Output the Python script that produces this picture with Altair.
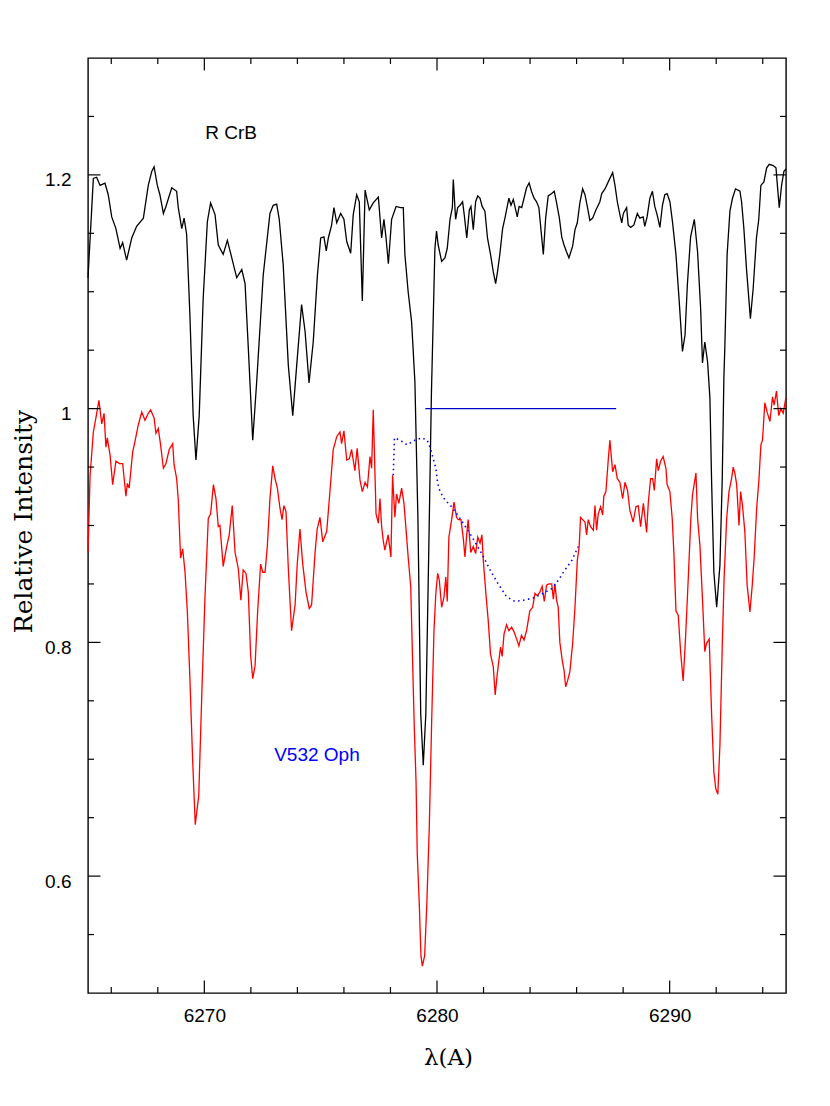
import altair as alt
import pandas as pd

# ---------------- data ----------------
rcrb_lam = [6265.00, 6265.23, 6265.37, 6265.52, 6265.73, 6265.87, 6266.02, 6266.20, 6266.38, 6266.49,
            6266.66, 6266.88, 6267.09, 6267.38, 6267.59, 6267.74, 6267.84, 6267.98, 6268.09, 6268.24,
            6268.35, 6268.60, 6268.81, 6268.88, 6269.03, 6269.13, 6269.24, 6269.38, 6269.52, 6269.64,
            6269.78, 6269.95, 6270.13, 6270.27, 6270.46, 6270.60, 6270.81, 6270.99, 6271.18, 6271.39,
            6271.61, 6271.75, 6271.89, 6272.08, 6272.25, 6272.53, 6272.82, 6272.96, 6273.11, 6273.22,
            6273.39, 6273.61, 6273.80, 6273.97, 6274.18, 6274.33, 6274.50, 6274.68, 6274.86, 6275.00,
            6275.14, 6275.24, 6275.33, 6275.47, 6275.57, 6275.69, 6275.86, 6276.00, 6276.12, 6276.29,
            6276.40, 6276.55, 6276.66, 6276.79, 6276.91, 6277.09, 6277.26, 6277.48, 6277.62, 6277.72,
            6277.81, 6277.91, 6278.05, 6278.24, 6278.44, 6278.55, 6278.62, 6278.76, 6278.91, 6279.05,
            6279.18, 6279.30, 6279.41, 6279.52, 6279.65, 6279.76, 6279.91, 6279.98, 6280.05, 6280.20,
            6280.34, 6280.44, 6280.56, 6280.66, 6280.70, 6280.80, 6280.89, 6280.99, 6281.10, 6281.17,
            6281.28, 6281.39, 6281.46, 6281.56, 6281.66, 6281.75, 6281.85, 6281.94, 6282.06, 6282.17,
            6282.30, 6282.42, 6282.52, 6282.60, 6282.70, 6282.82, 6282.92, 6283.02, 6283.09, 6283.18,
            6283.28, 6283.45, 6283.53, 6283.64, 6283.74, 6283.85, 6283.96, 6284.06, 6284.17, 6284.28,
            6284.38, 6284.45, 6284.57, 6284.67, 6284.78, 6284.93, 6285.04, 6285.14, 6285.26, 6285.36,
            6285.46, 6285.57, 6285.67, 6285.83, 6285.93, 6286.03, 6286.14, 6286.26, 6286.36, 6286.46,
            6286.57, 6286.69, 6286.83, 6287.00, 6287.08, 6287.22, 6287.36, 6287.55, 6287.65, 6287.75,
            6287.86, 6287.94, 6288.01, 6288.15, 6288.22, 6288.32, 6288.46, 6288.61, 6288.72, 6288.86,
            6288.93, 6289.03, 6289.15, 6289.26, 6289.36, 6289.46, 6289.58, 6289.69, 6289.79, 6289.89,
            6290.01, 6290.12, 6290.27, 6290.41, 6290.55, 6290.66, 6290.76, 6290.90, 6291.06, 6291.20,
            6291.33, 6291.41, 6291.51, 6291.63, 6291.73, 6291.80, 6291.90, 6292.02, 6292.16, 6292.26,
            6292.33, 6292.37, 6292.47, 6292.59, 6292.70, 6292.83, 6293.02, 6293.09, 6293.19, 6293.30,
            6293.47, 6293.59, 6293.73, 6293.83, 6293.92, 6294.05, 6294.17, 6294.28, 6294.45, 6294.57,
            6294.63, 6294.71, 6294.81, 6294.91, 6295.00]
rcrb_flux = [1.112, 1.197, 1.198, 1.191, 1.193, 1.183, 1.164, 1.154, 1.137, 1.142,
             1.127, 1.146, 1.156, 1.163, 1.191, 1.203, 1.207, 1.191, 1.183, 1.167,
             1.173, 1.189, 1.186, 1.172, 1.154, 1.163, 1.149, 1.080, 0.994, 0.956,
             0.994, 1.094, 1.160, 1.176, 1.166, 1.140, 1.132, 1.144, 1.129, 1.112,
             1.119, 1.107, 1.052, 0.973, 1.023, 1.114, 1.167, 1.174, 1.175, 1.162,
             1.123, 1.037, 0.994, 1.037, 1.089, 1.066, 1.022, 1.057, 1.114, 1.146,
             1.147, 1.135, 1.146, 1.157, 1.172, 1.159, 1.167, 1.162, 1.143, 1.133,
             1.166, 1.183, 1.177, 1.092, 1.187, 1.170, 1.176, 1.181, 1.146, 1.162,
             1.146, 1.124, 1.162, 1.173, 1.172, 1.172, 1.132, 1.100, 1.074, 1.023,
             0.906, 0.739, 0.695, 0.739, 0.883, 1.013, 1.137, 1.152, 1.140, 1.126,
             1.129, 1.137, 1.162, 1.172, 1.196, 1.162, 1.172, 1.174, 1.177, 1.166,
             1.146, 1.170, 1.173, 1.153, 1.177, 1.182, 1.180, 1.173, 1.169, 1.146,
             1.132, 1.117, 1.107, 1.117, 1.132, 1.154, 1.163, 1.173, 1.180, 1.174,
             1.179, 1.164, 1.173, 1.172, 1.180, 1.189, 1.193, 1.186, 1.180, 1.177,
             1.172, 1.157, 1.132, 1.163, 1.182, 1.184, 1.186, 1.176, 1.163, 1.147,
             1.140, 1.134, 1.129, 1.139, 1.153, 1.159, 1.176, 1.188, 1.183, 1.173,
             1.161, 1.163, 1.170, 1.177, 1.184, 1.188, 1.194, 1.202, 1.191, 1.177,
             1.166, 1.159, 1.167, 1.172, 1.157, 1.155, 1.157, 1.167, 1.163, 1.164,
             1.156, 1.164, 1.180, 1.186, 1.173, 1.166, 1.155, 1.174, 1.183, 1.184,
             1.177, 1.160, 1.132, 1.092, 1.049, 1.063, 1.106, 1.147, 1.162, 1.134,
             1.086, 1.039, 1.057, 1.040, 1.009, 0.940, 0.860, 0.830, 0.866, 0.940,
             1.026, 1.052, 1.132, 1.169, 1.180, 1.188, 1.186, 1.177, 1.154, 1.120,
             1.077, 1.103, 1.146, 1.162, 1.191, 1.194, 1.206, 1.209, 1.208, 1.206,
             1.191, 1.172, 1.191, 1.203, 1.205]

v532_lam = [6265.00, 6265.09, 6265.23, 6265.34, 6265.47, 6265.59, 6265.69, 6265.77, 6265.83, 6265.95,
            6266.06, 6266.20, 6266.35, 6266.49, 6266.63, 6266.69, 6266.77, 6266.92, 6267.02, 6267.16,
            6267.31, 6267.45, 6267.59, 6267.69, 6267.84, 6267.92, 6268.02, 6268.12, 6268.24, 6268.35,
            6268.49, 6268.64, 6268.70, 6268.81, 6268.88, 6268.98, 6269.07, 6269.17, 6269.27, 6269.38,
            6269.50, 6269.61, 6269.76, 6269.89, 6270.03, 6270.17, 6270.27, 6270.39, 6270.50, 6270.60,
            6270.67, 6270.81, 6270.96, 6271.07, 6271.20, 6271.32, 6271.46, 6271.57, 6271.67, 6271.79,
            6271.89, 6271.99, 6272.08, 6272.18, 6272.29, 6272.42, 6272.51, 6272.61, 6272.71, 6272.82,
            6272.94, 6273.04, 6273.14, 6273.25, 6273.34, 6273.42, 6273.51, 6273.61, 6273.75, 6273.90,
            6273.99, 6274.11, 6274.23, 6274.37, 6274.51, 6274.61, 6274.76, 6274.85, 6274.97, 6275.09,
            6275.26, 6275.37, 6275.54, 6275.69, 6275.83, 6275.90, 6276.00, 6276.12, 6276.23, 6276.33,
            6276.47, 6276.57, 6276.69, 6276.79, 6276.91, 6277.01, 6277.12, 6277.19, 6277.26, 6277.38,
            6277.48, 6277.55, 6277.62, 6277.69, 6277.76, 6277.90, 6278.02, 6278.09, 6278.19, 6278.26,
            6278.36, 6278.48, 6278.58, 6278.66, 6278.76, 6278.87, 6278.95, 6279.02, 6279.10, 6279.15,
            6279.24, 6279.31, 6279.37, 6279.47, 6279.56, 6279.67, 6279.77, 6279.87, 6279.95, 6280.03,
            6280.10, 6280.20, 6280.30, 6280.38, 6280.44, 6280.51, 6280.63, 6280.73, 6280.84, 6280.91,
            6281.03, 6281.13, 6281.20, 6281.28, 6281.34, 6281.45, 6281.56, 6281.66, 6281.75, 6281.85,
            6281.93, 6281.99, 6282.10, 6282.20, 6282.30, 6282.42, 6282.50, 6282.59, 6282.73, 6282.80,
            6282.88, 6282.99, 6283.09, 6283.21, 6283.31, 6283.42, 6283.52, 6283.63, 6283.74, 6283.85,
            6283.99, 6284.11, 6284.21, 6284.31, 6284.42, 6284.52, 6284.61, 6284.71, 6284.81, 6284.93,
            6285.00, 6285.07, 6285.14, 6285.21, 6285.28, 6285.38, 6285.46, 6285.53, 6285.61, 6285.71,
            6285.83, 6285.93, 6286.03, 6286.11, 6286.17, 6286.26, 6286.36, 6286.43, 6286.50, 6286.60,
            6286.72, 6286.79, 6286.86, 6286.93, 6287.03, 6287.12, 6287.17, 6287.26, 6287.36, 6287.43,
            6287.55, 6287.65, 6287.75, 6287.86, 6287.98, 6288.08, 6288.19, 6288.29, 6288.43, 6288.55,
            6288.65, 6288.75, 6288.87, 6289.01, 6289.08, 6289.18, 6289.27, 6289.34, 6289.44, 6289.51,
            6289.61, 6289.72, 6289.84, 6289.89, 6290.01, 6290.11, 6290.18, 6290.27, 6290.37, 6290.47,
            6290.58, 6290.68, 6290.80, 6290.91, 6290.98, 6291.13, 6291.20, 6291.30, 6291.41, 6291.51,
            6291.58, 6291.70, 6291.80, 6291.90, 6291.98, 6292.07, 6292.16, 6292.26, 6292.34, 6292.45,
            6292.55, 6292.66, 6292.73, 6292.80, 6292.88, 6292.98, 6293.05, 6293.13, 6293.23, 6293.33,
            6293.45, 6293.55, 6293.63, 6293.74, 6293.84, 6293.92, 6293.99, 6294.09, 6294.19, 6294.31,
            6294.42, 6294.49, 6294.59, 6294.69, 6294.78, 6294.88, 6295.00]
v532_flux = [0.877, 0.943, 0.980, 0.992, 1.007, 0.987, 0.996, 0.967, 0.975, 0.960,
             0.935, 0.955, 0.953, 0.953, 0.925, 0.936, 0.932, 0.963, 0.972, 0.986,
             0.997, 0.990, 0.996, 0.999, 0.992, 0.979, 0.983, 0.969, 0.949, 0.953,
             0.965, 0.970, 0.952, 0.940, 0.922, 0.872, 0.880, 0.860, 0.826, 0.769,
             0.698, 0.644, 0.669, 0.755, 0.840, 0.906, 0.910, 0.935, 0.923, 0.899,
             0.900, 0.865, 0.882, 0.892, 0.917, 0.877, 0.863, 0.836, 0.862, 0.859,
             0.843, 0.789, 0.769, 0.780, 0.826, 0.867, 0.860, 0.860, 0.883, 0.923,
             0.951, 0.940, 0.932, 0.915, 0.905, 0.917, 0.912, 0.863, 0.810, 0.832,
             0.866, 0.897, 0.867, 0.843, 0.829, 0.832, 0.877, 0.897, 0.907, 0.886,
             0.895, 0.922, 0.965, 0.976, 0.980, 0.970, 0.981, 0.956, 0.957, 0.965,
             0.947, 0.966, 0.939, 0.929, 0.937, 0.933, 0.959, 0.949, 0.999, 0.910,
             0.902, 0.923, 0.899, 0.887, 0.879, 0.892, 0.873, 0.943, 0.907, 0.927,
             0.919, 0.932, 0.919, 0.899, 0.873, 0.848, 0.785, 0.730, 0.680, 0.620,
             0.575, 0.532, 0.523, 0.532, 0.575, 0.643, 0.732, 0.810, 0.842, 0.859,
             0.853, 0.830, 0.839, 0.856, 0.835, 0.890, 0.905, 0.920, 0.907, 0.905,
             0.905, 0.889, 0.873, 0.893, 0.905, 0.877, 0.882, 0.876, 0.890, 0.885,
             0.892, 0.870, 0.842, 0.819, 0.790, 0.779, 0.755, 0.773, 0.796, 0.788,
             0.807, 0.815, 0.810, 0.813, 0.809, 0.803, 0.797, 0.806, 0.802, 0.810,
             0.827, 0.830, 0.842, 0.840, 0.843, 0.848, 0.835, 0.849, 0.850, 0.850,
             0.837, 0.850, 0.836, 0.830, 0.800, 0.785, 0.776, 0.762, 0.767, 0.775,
             0.799, 0.830, 0.870, 0.882, 0.907, 0.905, 0.903, 0.892, 0.905, 0.899,
             0.896, 0.917, 0.896, 0.910, 0.916, 0.909, 0.925, 0.929, 0.956, 0.973,
             0.946, 0.952, 0.940, 0.937, 0.923, 0.937, 0.930, 0.913, 0.903, 0.916,
             0.917, 0.899, 0.919, 0.894, 0.919, 0.940, 0.940, 0.930, 0.957, 0.947,
             0.955, 0.959, 0.949, 0.935, 0.929, 0.906, 0.877, 0.827, 0.823, 0.792,
             0.767, 0.803, 0.855, 0.906, 0.926, 0.945, 0.906, 0.883, 0.837, 0.792,
             0.799, 0.803, 0.740, 0.689, 0.675, 0.670, 0.712, 0.797, 0.855, 0.906,
             0.929, 0.940, 0.950, 0.945, 0.935, 0.900, 0.929, 0.917, 0.895, 0.849,
             0.826, 0.849, 0.872, 0.915, 0.940, 0.969, 0.973, 1.005, 0.997, 0.989,
             1.010, 1.003, 1.015, 0.994, 1.000, 0.996, 1.010]

band_lam = [6278.12, 6278.17, 6278.41, 6278.72, 6279.05, 6279.34, 6279.58, 6279.70, 6279.84, 6279.95,
            6280.03, 6280.13, 6280.34, 6280.63, 6280.99, 6281.42, 6281.92, 6282.28, 6282.63, 6282.99,
            6283.35, 6283.71, 6284.14, 6284.57, 6284.93, 6285.21, 6285.50, 6285.79, 6286.07]
band_flux = [0.943, 0.975, 0.973, 0.969, 0.973, 0.975, 0.973, 0.967, 0.957, 0.949,
             0.936, 0.929, 0.922, 0.916, 0.906, 0.893, 0.876, 0.862, 0.850, 0.839,
             0.835, 0.836, 0.838, 0.842, 0.846, 0.853, 0.862, 0.870, 0.882]

level_lam = [6279.5, 6287.7]
level_flux = [1.0, 1.0]

label_text = ["R CrB", "V532 Oph"]
label_lam = [6271.15, 6274.84]
label_flux = [1.236, 0.704]
label_color = ["#000000", "#0000ff"]

x_major = [6270, 6280, 6290]
x_minor = [6266, 6268, 6272, 6274, 6276, 6278, 6282, 6284, 6286, 6288, 6292, 6294]
y_major = [0.6, 0.8, 1.0, 1.2]
y_minor = [0.55, 0.65, 0.7, 0.75, 0.85, 0.9, 0.95, 1.05, 1.1, 1.15, 1.25]

# ---------------- chart ----------------
W, H = 698, 935
MAJ, MIN = 12.5, 6

xscale = alt.Scale(domain=[6265, 6295], nice=False, zero=False)
yscale = alt.Scale(domain=[0.5, 1.3], nice=False, zero=False)

xaxis = alt.Axis(values=x_major, format="d", ticks=False, domain=False, grid=False,
                 labelFont="Liberation Sans", labelFontSize=19, labelColor="black",
                 labelPadding=13, labelBaseline="top",
                 title="λ(A)", titleFont="DejaVu Serif", titleFontSize=23,
                 titleFontWeight="normal", titleColor="black",
                 titleX=360, titleY=64, titleBaseline="middle", titleAlign="center")
yaxis = alt.Axis(values=y_major, format="~g", ticks=False, domain=False, grid=False,
                 labelFont="Liberation Sans", labelFontSize=19, labelColor="black",
                 labelPadding=17, labelBaseline="middle", labelOffset=5,
                 title="Relative Intensity", titleFont="DejaVu Serif", titleFontSize=25,
                 titleFontWeight="normal", titleColor="black",
                 titleX=-65, titleY=463, titleBaseline="middle", titleAlign="center",
                 titleAngle=270)

X = alt.X("lam:Q", scale=xscale, axis=xaxis)
Y = alt.Y("flux:Q", scale=yscale, axis=yaxis)

df_rcrb = pd.DataFrame({"lam": rcrb_lam, "flux": rcrb_flux})
df_v532 = pd.DataFrame({"lam": v532_lam, "flux": v532_flux})
df_band = pd.DataFrame({"lam": band_lam, "flux": band_flux})
df_level = pd.DataFrame({"lam": level_lam, "flux": level_flux})
df_lab = pd.DataFrame({"lam": label_lam, "flux": label_flux, "text": label_text, "col": label_color})

black = alt.Chart(df_rcrb).mark_line(color="black", strokeWidth=1.3).encode(x=X, y=Y, order="lam:Q")
red = alt.Chart(df_v532).mark_line(color="#ff0000", strokeWidth=1.3).encode(x=X, y=Y, order="lam:Q")
band = alt.Chart(df_band).mark_line(color="#0000ff", strokeWidth=1.6, strokeDash=[1.5, 3.5]).encode(
    x=X, y=Y, order="lam:Q")
level = alt.Chart(df_level).mark_line(color="#0000cc", strokeWidth=1.2).encode(x=X, y=Y)
labels = alt.Chart(df_lab).mark_text(font="Liberation Sans", fontSize=19, align="center",
                                     baseline="middle").encode(
    x=X, y=Y, text="text:N", color=alt.Color("col:N", scale=None))

tick_layers = []
for vals, L in ((x_major, MAJ), (x_minor, MIN)):
    d = pd.DataFrame({"lam": vals})
    tick_layers.append(alt.Chart(d).mark_rule(color="black", strokeWidth=1.2).encode(
        x=X, y=alt.value(H), y2=alt.value(H - L)))
    tick_layers.append(alt.Chart(d).mark_rule(color="black", strokeWidth=1.2).encode(
        x=X, y=alt.value(0), y2=alt.value(L)))
for vals, L in ((y_major, MAJ), (y_minor, MIN)):
    d = pd.DataFrame({"flux": vals})
    tick_layers.append(alt.Chart(d).mark_rule(color="black", strokeWidth=1.2).encode(
        y=Y, x=alt.value(0), x2=alt.value(L)))
    tick_layers.append(alt.Chart(d).mark_rule(color="black", strokeWidth=1.2).encode(
        y=Y, x=alt.value(W), x2=alt.value(W - L)))

chart = alt.layer(black, red, band, level, labels, *tick_layers).properties(
    width=W, height=H,
    background="white",
    autosize=alt.AutoSizeParams(type="none"),
    padding={"left": 80, "top": 50, "right": 36, "bottom": 105},
).configure_view(stroke="black", strokeWidth=1.4)

chart.save("out.html", embed_options={"renderer": "svg", "actions": False})
